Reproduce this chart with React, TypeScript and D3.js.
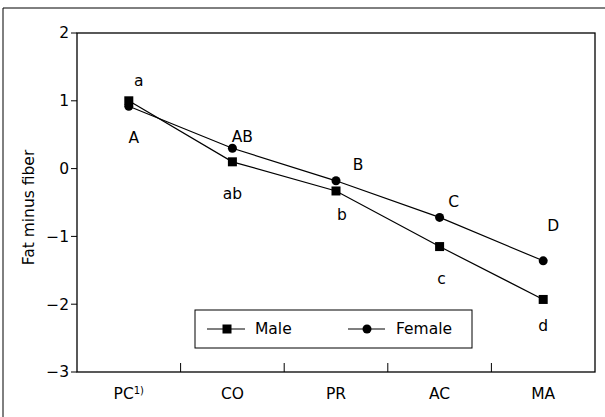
import React from "react";
import * as d3 from "d3";

const categories = ["PC", "CO", "PR", "AC", "MA"];
const maleValues = [1.0, 0.1, -0.33, -1.15, -1.93];
const femaleValues = [0.92, 0.3, -0.18, -0.72, -1.36];
const maleLetters = ["a", "ab", "b", "c", "d"];
const femaleLetters = ["A", "AB", "B", "C", "D"];
const yTicks = [-3, -2, -1, 0, 1, 2];

const W = 605, H = 417;
const L = 77, R = 595, T = 33, B = 372;

export default function App() {
  const x = d3.scaleBand().domain(categories).range([L, R]);
  const y = d3.scaleLinear().domain([-3, 2]).range([B, T]);
  const cx = (c: string) => (x(c) as number) + x.bandwidth() / 2;
  const line = d3.line<number>().x((_, i) => cx(categories[i])).y((v) => y(v));
  const font = "'DejaVu Sans', 'Liberation Sans', sans-serif";
  const fs = 15.5;
  const sq = 9;
  const maleOff = [[10, -20], [0, 32], [6, 24], [2, 32], [0, 26]];
  const femaleOff = [[5, 31], [10, -12], [22, -16], [14, -16], [10, -35]];
  return (
    <svg width={W} height={H} style={{ position: "absolute", left: 0, top: 0, background: "#fff" }} fontFamily={font}>
      <line x1={3} y1={8} x2={605} y2={8} stroke="#000" strokeWidth={1} />
      <line x1={3} y1={8} x2={3} y2={417} stroke="#000" strokeWidth={1} />
      <rect x={L} y={T} width={R - L} height={B - T} fill="none" stroke="#000" strokeWidth={1.3} />
      {yTicks.map((t) => (
        <g key={t}>
          <line x1={L - 6} x2={L} y1={y(t)} y2={y(t)} stroke="#000" strokeWidth={1} />
          <text x={L - 8} y={y(t)} dy="0.35em" textAnchor="end" fontSize={fs}>
            {t < 0 ? "\u2212" + Math.abs(t) : String(t)}
          </text>
        </g>
      ))}
      {categories.slice(1).map((c) => (
        <line key={c} x1={x(c)} x2={x(c)} y1={B} y2={B - 9} stroke="#000" strokeWidth={1} />
      ))}
      {categories.map((c) => (
        <text key={c} x={cx(c)} y={B + 27} textAnchor="middle" fontSize={fs}>
          {c}
          {c === "PC" ? <tspan fontSize={10} dy={-5}>1)</tspan> : null}
        </text>
      ))}
      <text transform={`translate(34,${(T + B) / 2 + 5}) rotate(-90)`} textAnchor="middle" fontSize={fs}>
        Fat minus fiber
      </text>
      <path d={line(maleValues) as string} fill="none" stroke="#000" strokeWidth={1.2} />
      <path d={line(femaleValues) as string} fill="none" stroke="#000" strokeWidth={1.2} />
      {maleValues.map((v, i) => (
        <rect key={i} x={cx(categories[i]) - sq / 2} y={y(v) - sq / 2} width={sq} height={sq} fill="#000" />
      ))}
      {femaleValues.map((v, i) => (
        <circle key={i} cx={cx(categories[i])} cy={y(v)} r={4.5} fill="#000" />
      ))}
      {maleValues.map((v, i) => (
        <text key={i} x={cx(categories[i]) + maleOff[i][0]} y={y(v) + maleOff[i][1]} textAnchor="middle" dy="0.35em" fontSize={fs}>
          {maleLetters[i]}
        </text>
      ))}
      {femaleValues.map((v, i) => (
        <text key={i} x={cx(categories[i]) + femaleOff[i][0]} y={y(v) + femaleOff[i][1]} textAnchor="middle" dy="0.35em" fontSize={fs}>
          {femaleLetters[i]}
        </text>
      ))}
      <g>
        <rect x={195} y={310} width={277} height={38} fill="#fff" stroke="#000" strokeWidth={1} />
        <line x1={207} x2={245} y1={329} y2={329} stroke="#000" strokeWidth={1.2} />
        <rect x={227 - sq / 2} y={329 - sq / 2} width={sq} height={sq} fill="#000" />
        <text x={255} y={329} dy="0.35em" fontSize={fs}>Male</text>
        <line x1={348} x2={385} y1={329} y2={329} stroke="#000" strokeWidth={1.2} />
        <circle cx={367} cy={329} r={4.5} fill="#000" />
        <text x={396} y={329} dy="0.35em" fontSize={fs}>Female</text>
      </g>
    </svg>
  );
}
